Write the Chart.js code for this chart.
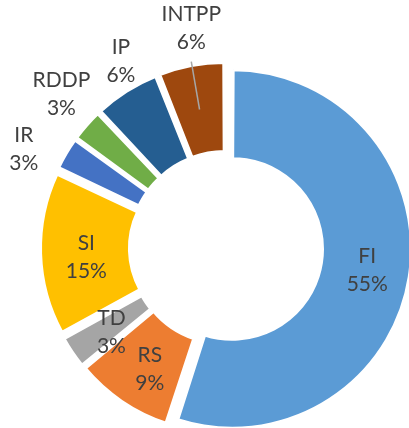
<!DOCTYPE html>
<html>
<head>
<meta charset="utf-8">
<script src="https://cdn.jsdelivr.net/npm/chart.js@4"></script>
<style>
  html, body { margin: 0; padding: 0; background: #fff; }
  #wrap { width: 409px; height: 428px; position: relative; }
</style>
</head>
<body>
<div id="wrap"><canvas id="donut"></canvas></div>
<script>
// Kategorier og andele (%), i urets retning fra toppen
const categories = ['FI', 'RS', 'TD', 'SI', 'IR', 'RDDP', 'IP', 'INTPP'];
const shares = [55, 9, 3, 15, 3, 3, 6, 6];
const sliceColors = ['#5B9BD5', '#ED7D31', '#A5A5A5', '#FFC000', '#4472C4', '#70AD47', '#255E91', '#9E480E'];

// udtrukne stykker (chart.js offset pr. stykke)
const sliceOffsets = [25, 34, 28, 42, 28, 28, 31, 31];

// label placering: afstand fra centrum og lille vinkel-justering (grader)
const labelPlace = [[143, 0], [143, -2], [142, -2], [140, -2], [225, -4.6], [225, 1.6], [214, 3], [222, 1.8]];
const leaderFor = ['INTPP'];

const sliceLabels = {
  id: 'sliceLabels',
  afterDatasetsDraw(chart) {
    const ctx = chart.ctx;
    const meta = chart.getDatasetMeta(0);
    const total = shares.reduce((a, b) => a + b, 0);
    ctx.save();
    ctx.font = '21px Lato';
    ctx.textAlign = 'center';
    ctx.textBaseline = 'middle';
    meta.data.forEach((arc, i) => {
      const midTrue = (arc.startAngle + arc.endAngle) / 2;
      const mid = midTrue + labelPlace[i][1] * Math.PI / 180;
      const x = arc.x + Math.cos(mid) * labelPlace[i][0];
      const y = arc.y + Math.sin(mid) * labelPlace[i][0];
      if (leaderFor.includes(categories[i])) {
        ctx.strokeStyle = '#A6A6A6';
        ctx.lineWidth = 1.5;
        ctx.beginPath();
        ctx.moveTo(x, y + 33);
        ctx.lineTo(arc.x + Math.cos(midTrue) * 141, arc.y + Math.sin(midTrue) * 141);
        ctx.stroke();
      }
      ctx.fillStyle = '#404040';
      ctx.fillText(categories[i], x, y - 14);
      ctx.fillText(Math.round(shares[i] / total * 100) + '%', x, y + 14);
    });
    ctx.restore();
  }
};

document.addEventListener('DOMContentLoaded', () => {
  const ctx = document.getElementById('donut').getContext('2d');
  new Chart(ctx, {
    type: 'doughnut',
    data: {
      labels: categories,
      datasets: [{
        data: shares,
        backgroundColor: sliceColors,
        borderColor: '#fff',
        borderWidth: 3,
        offset: sliceOffsets
      }]
    },
    options: {
      responsive: true,
      maintainAspectRatio: false,
      animation: false,
      radius: 173,
      cutout: '48.6%',
      layout: { padding: { left: 43, right: 0, top: 68, bottom: 0 } },
      plugins: { legend: { display: false }, tooltip: { enabled: false } },
      events: []
    },
    plugins: [sliceLabels]
  });
});
</script>
</body>
</html>
